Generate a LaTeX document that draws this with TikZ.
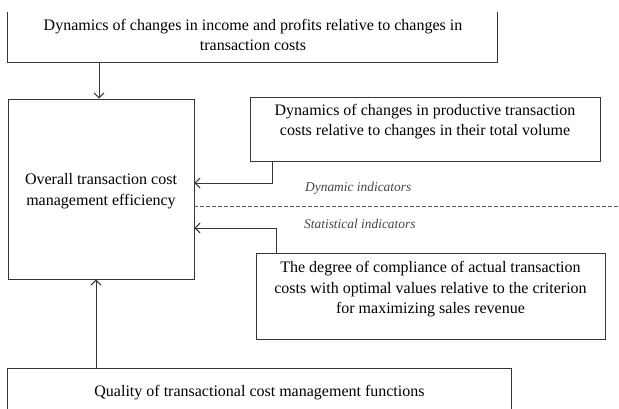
\documentclass[tikz,border=0pt]{standalone}
\usepackage{fontspec}
\setmainfont{Liberation Serif}
\usetikzlibrary{arrows.meta}
\definecolor{linegray}{HTML}{353535}
\definecolor{labelgray}{HTML}{444444}
\begin{document}
\begin{tikzpicture}[x=1pt,y=-1pt,
  frame/.style={draw=linegray,line width=0.95pt,inner sep=0pt},
  boxtext/.style={align=center,inner sep=0pt,font=\fontsize{16}{20.5}\selectfont,text=black},
  indlabel/.style={anchor=west,inner sep=0pt,font=\fontsize{13.4}{15}\selectfont\itshape,text=labelgray},
  arr/.style={draw=linegray,line width=0.95pt,-{Straight Barb[length=5pt,width=10pt]}}]
\useasboundingbox (0,0) rectangle (619,409);

% top box, open at the top edge
\node[inner sep=0pt,minimum width=489pt,minimum height=50pt] (topbox) at (252.5,37) {};
\node[boxtext] (toptext) at (253,35) {Dynamics of changes in income and profits relative to changes in\\transaction costs};
\draw[linegray,line width=0.95pt] (topbox.north west) -- (topbox.south west) -- (topbox.south east) -- (topbox.north east);

% central box
\node[frame,minimum width=186pt,minimum height=180pt] (eff) at (101,189) {};
\node[boxtext] (efftext) at (101,191) {Overall transaction cost\\management efficiency};

% dynamic indicator box
\node[frame,minimum width=350pt,minimum height=64pt] (box2) at (425,129) {};
\node[boxtext] (box2text) at (425,121.5) {Dynamics of changes in productive transaction\\costs relative to changes in their total volume};

% statistical indicator box
\node[frame,minimum width=349pt,minimum height=86pt] (box3) at (430.5,296) {};
\node[boxtext] (box3text) at (430.5,289.5) {The degree of compliance of actual transaction\\costs with optimal values relative to the criterion\\for maximizing sales revenue};

% bottom box, open at the lower edge
\node[inner sep=0pt,minimum width=503pt,minimum height=50pt] (botbox) at (259.5,394) {};
\node[boxtext] (bottext) at (259.5,393) {Quality of transactional cost management functions};
\draw[linegray,line width=0.95pt] (botbox.south west) -- (botbox.north west) -- (botbox.north east) -- (botbox.south east);

% separator between the two indicator groups
\coordinate (dashend) at (619,206);
\draw[linegray!80,line width=0.8pt,dash pattern=on 3.5pt off 2.5pt] (eff.east |- dashend) -- (dashend);
\node[indlabel] (dynlabel) at (305,188) {Dynamic indicators};
\node[indlabel] (statlabel) at (304,224) {Statistical indicators};

% connectors
\draw[arr] ([xshift=-2pt]eff.north |- topbox.south) -- ([xshift=-2pt]eff.north);
\draw[arr] ([xshift=-5pt]eff.south |- botbox.north) -- ([xshift=-5pt]eff.south);
\draw[arr] ([xshift=23pt]box2.south west) |- ([yshift=6pt]eff.east);
\draw[arr] ([xshift=21pt]box3.north west) |- ([yshift=-39pt]eff.east);
\end{tikzpicture}
\end{document}
